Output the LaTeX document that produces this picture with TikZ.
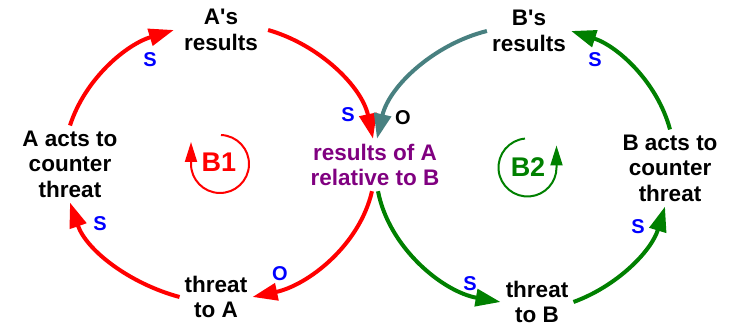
\documentclass[tikz,border=0pt]{standalone}
\usepackage{fontspec}
\setmainfont{Liberation Sans}
\usetikzlibrary{arrows.meta}
\definecolor{cteal}{RGB}{72,128,128}
\definecolor{cgreen}{RGB}{0,128,0}
\definecolor{cpurple}{RGB}{128,0,128}
\definecolor{cblue}{RGB}{0,0,255}
\definecolor{cred}{RGB}{255,0,0}
\begin{document}
\begin{tikzpicture}[x=1pt,y=1pt,
  var/.style={font=\fontsize{22.5}{25.5}\selectfont\bfseries, align=center, inner sep=5pt},
  pol/.style={font=\fontsize{20}{22}\selectfont\bfseries, inner sep=0pt},
  link/.style={line width=4pt, -{Triangle[length=25pt,width=17pt]}, looseness=0.9},
  loopmark/.style={line width=2pt, -{Triangle[length=20pt,width=12pt]}},
  looplabel/.style={font=\fontsize{27}{30}\selectfont\bfseries, inner sep=0pt},
]
\useasboundingbox (0,0) rectangle (738,328);
% variables
\node[var, inner xsep=10pt] (ares) at (221,298) {A\textquotesingle s\\results};
\node[var] (bres) at (529,297) {B\textquotesingle s\\results};
\node[var] (aact) at (70,164) {A acts to\\counter\\threat};
\node[var] (bact) at (670,160) {B acts to\\counter\\threat};
\node[var, text=cpurple] (res) at (375,163) {results of A\\relative to B};
\node[var] (thA) at (216,31) {threat\\to A};
\node[var] (thB) at (537,26) {threat\\to B};
% links
\draw[link, cred] (aact.north) to[out=72, in=197] (ares.west);
\draw[link, cred] (ares.east) to[out=-16, in=102] ([xshift=-2pt]res.north);
\draw[link, cteal] (bres.west) to[out=194, in=77] ([xshift=2pt]res.north);
\draw[link, cgreen] (bact.north) to[out=105, in=-18] (bres.east);
\draw[link, cred] ([xshift=-3pt]res.south) to[out=257, in=12] (thA.east);
\draw[link, cred] (thA.west) to[out=165, in=289] (aact.south);
\draw[link, cgreen] ([xshift=3pt]res.south) to[out=281, in=170] (thB.west);
\draw[link, cgreen] (thB.east) to[out=20, in=253] ([xshift=-5pt]bact.south);
% polarity labels
\node[pol, text=cblue] (s1) at (150,268) {S};
\node[pol, text=cblue] (s2) at (348,213) {S};
\node[pol, text=black] (o1) at (403,210) {O};
\node[pol, text=cblue] (s3) at (595,268) {S};
\node[pol, text=cblue] (s4) at (100,104) {S};
\node[pol, text=cblue] (o2) at (280,54) {O};
\node[pol, text=cblue] (s5) at (470,44) {S};
\node[pol, text=cblue] (s6) at (638,101) {S};
% loop markers
\node[looplabel, text=cred] (b1) at (219,166) {B1};
\draw[loopmark, cred] ([shift={(1,-2)}]b1.center) ++(88:29) arc[start angle=88, end angle=-180, radius=29] -- ++(0,22);
\node[looplabel, text=cgreen] (b2) at (528,161) {B2};
\draw[loopmark, cgreen] ([shift={(-0.5,-0.5)}]b2.center) ++(95:29) arc[start angle=95, end angle=360, radius=29] -- ++(0,22);
\end{tikzpicture}
\end{document}
